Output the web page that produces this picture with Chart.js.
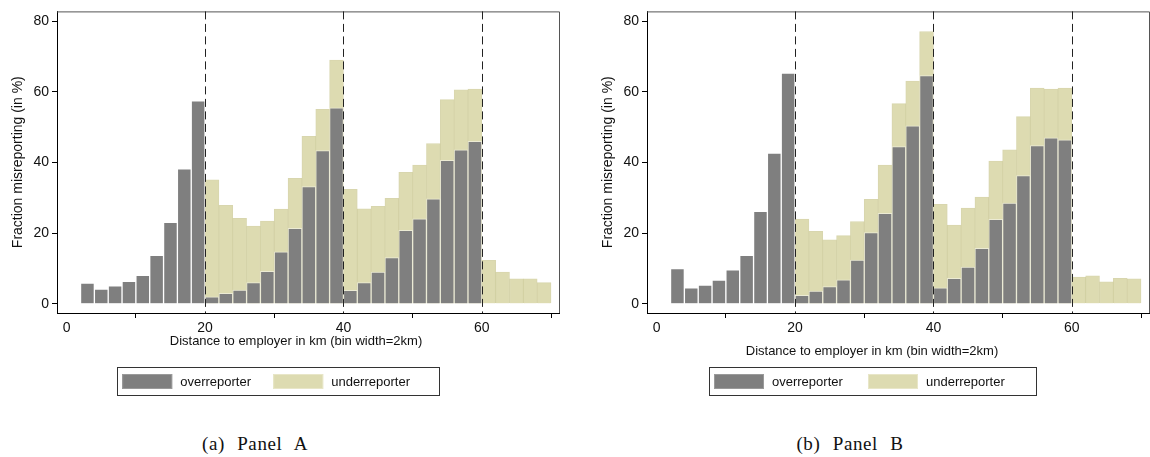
<!DOCTYPE html>
<html>
<head>
<meta charset="utf-8">
<script src="https://cdn.jsdelivr.net/npm/chart.js@4.4.1/dist/chart.umd.min.js"></script>
<style>
  html, body { margin: 0; padding: 0; background: #fff; }
  body { width: 1150px; height: 457px; position: relative; overflow: hidden; }
  .panel { position: absolute; top: 0; }
  .caption {
    position: absolute; top: 434px; width: 300px; text-align: center;
    font-family: "Liberation Serif", serif; font-size: 19px; line-height: 19px;
    letter-spacing: 0.6px; word-spacing: 7px; color: #111;
  }
</style>
</head>
<body>
<canvas id="panelA" class="panel" style="left:0px" width="560" height="420"></canvas>
<canvas id="panelB" class="panel" style="left:590px" width="560" height="420"></canvas>
<div class="caption" style="left:105px">(a) Panel A</div>
<div class="caption" style="left:700px">(b) Panel B</div>

<script>
// bin centres (km), bin width 2km
const binCenters = [3, 5, 7, 9, 11, 13, 15, 17, 19,
                    21, 23, 25, 27, 29, 31, 33, 35, 37, 39,
                    41, 43, 45, 47, 49, 51, 53, 55, 57, 59,
                    61, 63, 65, 67, 69];
const seriesNames = ['overreporter', 'underreporter'];

// Panel A (fraction misreporting, %)
const overA = [5.9, 4.2, 5.1, 6.4, 8.1, 13.7, 23.1, 38.2, 57.5,
               2.0, 3.0, 3.9, 6.0, 9.2, 14.7, 21.4, 33.2, 43.4, 55.5,
               3.8, 6.0, 9.0, 13.1, 20.8, 24.1, 29.7, 40.6, 43.6, 46.0,
               null, null, null, null, null];
const underA = [null, null, null, null, null, null, null, null, null,
                35.1, 27.9, 24.2, 22.0, 23.4, 26.8, 35.5, 47.4, 55.1, 69.0,
                32.4, 26.9, 27.6, 29.9, 37.2, 39.3, 45.4, 57.8, 60.6, 60.8,
                12.3, 9.0, 7.1, 7.1, 6.0];

// Panel B
const overB = [10.0, 4.5, 5.3, 6.7, 9.6, 13.7, 26.2, 42.7, 65.3,
               2.4, 3.6, 4.9, 6.8, 12.4, 20.2, 25.6, 44.5, 50.4, 64.6,
               4.5, 7.2, 10.4, 15.7, 23.9, 28.5, 36.3, 44.8, 47.0, 46.4,
               null, null, null, null, null];
const underB = [null, null, null, null, null, null, null, null, null,
                24.0, 20.5, 18.1, 19.3, 23.3, 29.6, 39.3, 56.7, 63.1, 77.1,
                28.2, 22.3, 27.1, 30.2, 40.4, 43.6, 53.0, 61.1, 60.8, 61.1,
                7.6, 7.9, 6.2, 7.2, 7.1];

const cutoffs = [20, 40, 60];
const xTicks = [0, 20, 40, 60];
const yTicks = [0, 20, 40, 60, 80];

const xTitle = 'Distance to employer in km (bin width=2km)';
const yTitle = 'Fraction misreporting (in %)';

const GREY = '#7f7f7f';
const SAND = '#dddbb1';
const FONT = '"Liberation Sans", Arial, sans-serif';

// dashed cut-off lines and the grey top/right frame
const framePlugin = {
  id: 'frameLines',
  afterDatasetsDraw(chart) {
    const {ctx, chartArea: a, scales: {x}} = chart;
    ctx.save();
    ctx.strokeStyle = '#555';
    ctx.lineWidth = 1;
    ctx.beginPath();
    ctx.moveTo(a.left, a.top + 0.5);
    ctx.lineTo(a.right - 0.5, a.top + 0.5);
    ctx.lineTo(a.right - 0.5, a.bottom);
    ctx.stroke();

    ctx.strokeStyle = '#222';
    ctx.setLineDash([8, 4.5]);
    cutoffs.forEach(c => {
      const px = Math.round(x.getPixelForValue(c)) + 0.5;
      ctx.beginPath();
      ctx.moveTo(px, a.top);
      ctx.lineTo(px, a.bottom);
      ctx.stroke();
    });
    ctx.restore();
  }
};

// x axis title and the boxed legend below the plot
const bottomPlugin = {
  id: 'bottomText',
  afterDraw(chart, args, opts) {
    const ctx = chart.ctx;
    ctx.save();
    ctx.fillStyle = '#111';
    ctx.font = '13px ' + FONT;
    ctx.textAlign = 'center';
    ctx.textBaseline = 'middle';
    ctx.fillText(xTitle, opts.titleX, opts.titleY);

    const lg = opts.legend;
    const left = lg.centerX - lg.width / 2;
    ctx.strokeStyle = '#333';
    ctx.lineWidth = 1;
    ctx.strokeRect(Math.round(left) + 0.5, lg.top + 0.5, lg.width, lg.height);
    ctx.textAlign = 'left';
    chart.data.datasets.forEach((ds, i) => {
      const sx = left + 5.5 + i * lg.pitch;
      const sy = lg.top + 7;
      ctx.fillStyle = ds.backgroundColor;
      ctx.fillRect(sx, sy, 50, 15);
      ctx.strokeStyle = ds.legendEdge;
      ctx.strokeRect(sx + 0.5, sy + 0.5, 49, 14);
      ctx.fillStyle = '#111';
      ctx.fillText(ds.label, sx + 58, sy + 8);
    });
    ctx.restore();
  }
};

function drawPanel(id, over, under, pos) {
  const ctx = document.getElementById(id).getContext('2d');
  return new Chart(ctx, {
    type: 'bar',
    data: {
      datasets: [{
        label: seriesNames[0],
        data: binCenters.map((c, i) => ({x: c, y: over[i]})),
        backgroundColor: GREY,
        borderColor: 'rgba(255,255,255,0.45)',
        legendEdge: '#9a9a9a',
        borderWidth: 1
      }, {
        label: seriesNames[1],
        data: binCenters.map((c, i) => ({x: c, y: under[i]})),
        backgroundColor: SAND,
        borderColor: 'rgba(200,196,140,0.7)',
        legendEdge: '#e8e6c8',
        borderWidth: 1
      }]
    },
    options: {
      responsive: false,
      animation: false,
      grouped: false,
      barPercentage: 1,
      categoryPercentage: 1,
      layout: {padding: {top: 7, right: 0, left: 0, bottom: 57}},
      scales: {
        x: {
          type: 'linear',
          min: -1.4,
          max: 71.3,
          offset: false,
          afterFit: s => { s.height = 50; },
          afterBuildTicks: s => { s.ticks = xTicks.map(v => ({value: v})); },
          grid: {drawOnChartArea: false, drawTicks: true, tickLength: 5, color: '#000'},
          border: {display: true, color: '#000', width: 1},
          ticks: {color: '#111', padding: 2, font: {family: FONT, size: 14}}
        },
        y: {
          min: -2.6,
          max: 82.8,
          afterFit: s => { s.width = 57; },
          afterBuildTicks: s => { s.ticks = yTicks.map(v => ({value: v})); },
          grid: {drawOnChartArea: false, drawTicks: true, tickLength: 5, color: '#000'},
          border: {display: true, color: '#000', width: 1},
          ticks: {color: '#111', padding: 3, font: {family: FONT, size: 14}},
          title: {display: true, text: yTitle, color: '#111', padding: {top: 9.5, bottom: 0},
                  font: {family: FONT, size: 14}}
        }
      },
      plugins: {
        legend: {display: false},
        tooltip: {enabled: false},
        bottomText: pos
      }
    },
    plugins: [framePlugin, bottomPlugin]
  });
}

drawPanel('panelA', overA, underA, {
  titleX: 296, titleY: 341,
  legend: {centerX: 277.7, top: 367, width: 322, height: 28, pitch: 151}
});
drawPanel('panelB', overB, underB, {
  titleX: 282, titleY: 351,
  legend: {centerX: 282, top: 367, width: 327, height: 28, pitch: 154}
});
</script>
</body>
</html>
